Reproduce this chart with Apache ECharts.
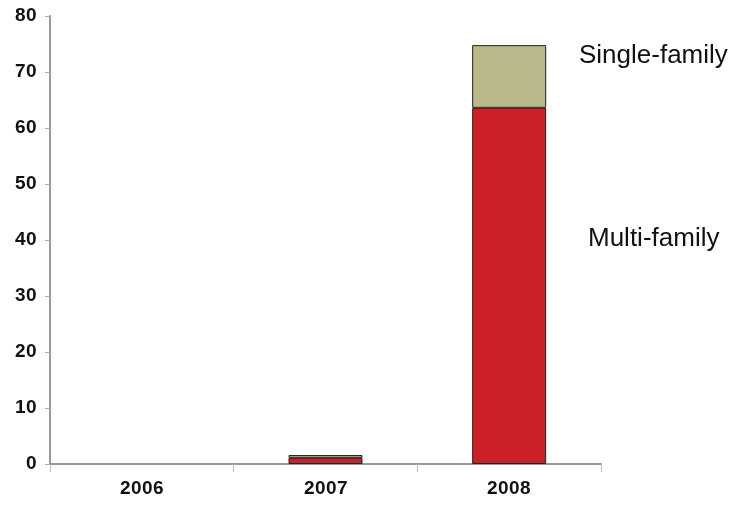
<!DOCTYPE html>
<html>
<head>
<meta charset="utf-8">
<script src="https://cdn.jsdelivr.net/npm/echarts@6/dist/echarts.min.js"></script>
<style>
  html, body { margin: 0; padding: 0; background: #fff; }
  #chart { width: 747px; height: 516px; }
  @font-face {
    font-family: 'AxisNarrow';
    font-weight: 700;
    src: local('Liberation Sans Narrow Bold'), local('LiberationSansNarrow-Bold'),
         local('Liberation Sans Bold'), local('LiberationSans-Bold');
  }
</style>
</head>
<body>
<div id="chart"></div>
<script>
const years = ['2006', '2007', '2008'];
const multiFamily = [0, 1.1, 63.6];
const singleFamily = [0, 0.5, 11.2];

const axisFont = {
  fontFamily: 'AxisNarrow, "Liberation Sans", Arial, sans-serif',
  fontWeight: 'bold',
  fontSize: 19,
  color: '#111'
};

// zero-height bars would still draw their border as a line; hide it
const toBarData = (vals) => vals.map((v) => (v === 0 ? { value: v, itemStyle: { borderWidth: 0 } } : v));

function draw() {
  const chart = echarts.init(document.getElementById('chart'), null, { renderer: 'canvas' });

  const option = {
    animation: false,
    backgroundColor: '#fff',
    grid: { left: 50, right: 146, top: 16, bottom: 52 },
    xAxis: {
      type: 'category',
      data: years,
      axisLine: { lineStyle: { color: '#999', width: 2 } },
      axisTick: { show: true, length: 8, lineStyle: { color: '#bbb' } },
      axisLabel: { ...axisFont, margin: 15 }
    },
    yAxis: {
      type: 'value',
      min: 0,
      max: 80,
      interval: 10,
      splitLine: { show: false },
      axisLine: { show: true, lineStyle: { color: '#999', width: 2 } },
      axisTick: { show: true, length: 5, lineStyle: { color: '#aaa' } },
      axisLabel: { ...axisFont, margin: 13 }
    },
    series: [
      {
        name: 'Multi-family',
        type: 'bar',
        stack: 'units',
        barWidth: 74,
        data: toBarData(multiFamily),
        itemStyle: { color: '#CB2027', borderColor: '#222', borderWidth: 1 }
      },
      {
        name: 'Single-family',
        type: 'bar',
        stack: 'units',
        barWidth: 74,
        data: toBarData(singleFamily),
        itemStyle: { color: '#BAB98A', borderColor: '#222', borderWidth: 1 }
      }
    ],
    graphic: [
      {
        type: 'text',
        x: 579,
        y: 56,
        style: { text: 'Single-family', fontFamily: '"Liberation Sans", Arial, sans-serif', fontSize: 26, fill: '#111', verticalAlign: 'middle' }
      },
      {
        type: 'text',
        x: 588,
        y: 239,
        style: { text: 'Multi-family', fontFamily: '"Liberation Sans", Arial, sans-serif', fontSize: 26, fill: '#111', verticalAlign: 'middle' }
      }
    ]
  };

  chart.setOption(option);
}

if (document.fonts && document.fonts.load) {
  document.fonts.load('700 19px AxisNarrow').then(draw, draw);
} else {
  draw();
}
</script>
</body>
</html>
